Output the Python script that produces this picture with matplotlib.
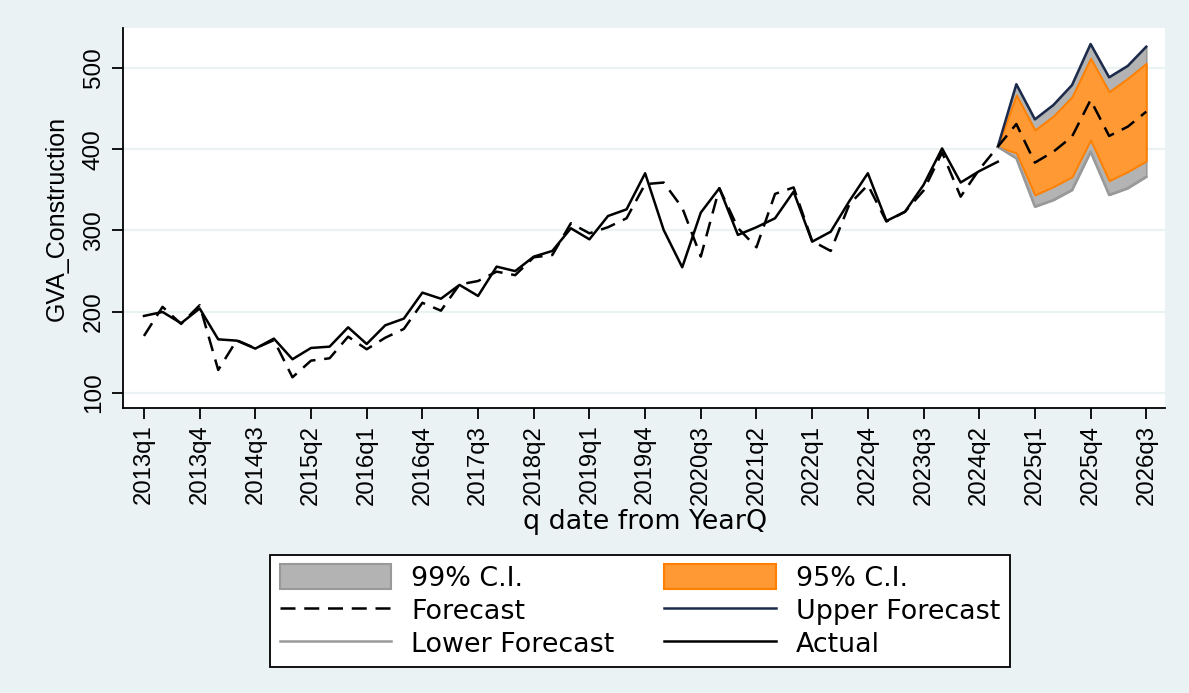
import matplotlib
matplotlib.use("Agg")
import matplotlib.pyplot as plt
from matplotlib.patches import Patch
from matplotlib.lines import Line2D
import numpy as np

# ---------------- data ----------------
start_year = 2013
n_quarters = 55  # 2013q1 .. 2026q3

actual = [194.8, 199.7, 185.8, 204.0, 166.0, 164.4, 154.6, 166.9, 141.5, 155.4,
          157.0, 180.8, 160.3, 183.3, 191.5, 223.5, 216.0, 233.0, 219.4, 255.5,
          250.0, 267.8, 274.8, 302.7, 289.1, 317.8, 326.0, 370.4, 300.6, 254.7,
          322.0, 352.0, 294.5, 304.0, 315.0, 347.8, 286.2, 298.5, 336.0, 370.4,
          311.7, 323.0, 356.0, 401.0, 359.0, 373.0, 384.6]

forecast = [170.2, 206.0, 185.0, 208.0, 128.3, 165.0, 155.0, 165.0, 119.3, 139.8,
            142.7, 169.3, 153.8, 168.0, 178.8, 211.0, 201.3, 233.5, 237.8, 249.3,
            245.0, 267.0, 269.8, 308.9, 296.5, 304.0, 315.0, 357.0, 359.0, 328.0,
            267.8, 352.0, 303.0, 279.3, 345.0, 353.0, 287.0, 274.8, 332.0, 356.0,
            311.0, 323.0, 349.0, 396.0, 341.6, 375.0, 403.0, 431.0, 383.5, 397.0,
            415.5, 460.6, 416.3, 427.7, 446.2]

fan_start = 46  # index of 2024q3
upper99 = [403.0, 480.0, 436.8, 454.5, 479.0, 529.5, 488.5, 502.5, 526.2]
upper95 = [403.0, 466.8, 423.7, 441.0, 464.6, 512.0, 470.8, 487.3, 505.7]
lower95 = [403.0, 395.5, 343.7, 354.0, 366.0, 411.4, 361.3, 372.4, 385.5]
lower99 = [403.0, 388.8, 329.3, 337.5, 349.8, 397.0, 343.7, 352.0, 366.2]

y_ticks = [100, 200, 300, 400, 500]
tick_step = 3

legend_labels = ["99% C.I.", "Forecast", "Lower Forecast",
                 "95% C.I.", "Upper Forecast", "Actual"]

# ---------------- styling ----------------
BG = "#EAF2F3"
NAVY = "#1C2B4C"
GRAYLINE = "#999999"
GRAYFILL = "#B3B3B3"
ORANGE = "#FF9933"
ORANGE_EDGE = "#FF8000"

q_labels = [f"{start_year + k // 4}q{k % 4 + 1}" for k in range(n_quarters)]
x_all = np.arange(n_quarters)
x_act = x_all[:len(actual)]
x_fan = x_all[fan_start:fan_start + len(upper99)]

fig = plt.figure(figsize=(11.89, 6.93), dpi=100, facecolor=BG)
ax = fig.add_axes([123 / 1189, 1 - 408 / 693, (1165 - 123) / 1189, (408 - 28) / 693])
ax.set_facecolor("white")

# grid
for v in y_ticks:
    ax.axhline(v, color=BG, lw=1.6, zorder=0)

# fans
ax.fill_between(x_fan, lower99, upper99, facecolor=GRAYFILL, edgecolor=GRAYLINE,
                lw=1.2, zorder=2)
ax.fill_between(x_fan, lower95, upper95, facecolor=ORANGE, edgecolor=ORANGE_EDGE,
                lw=1.4, zorder=3)
ax.plot(x_fan, upper99, color=NAVY, lw=1.8, zorder=4)
ax.plot(x_fan, lower99, color=GRAYLINE, lw=1.8, zorder=4)

# lines
ax.plot(x_all[:len(forecast)], forecast, color="black", lw=1.8,
        linestyle=(0, (6, 3.5)), zorder=5)
ax.plot(x_act, actual, color="black", lw=1.8, zorder=6)

ax.set_xlim(-1.13, 55.01)
ax.set_ylim(81.5, 549.2)

for s in ["top", "right"]:
    ax.spines[s].set_visible(False)
for s in ["left", "bottom"]:
    ax.spines[s].set_linewidth(1.3)
    ax.spines[s].set_color("black")

tick_font = dict(family="Liberation Sans", size=17.2)
ax.set_xticks(x_all[::tick_step])
ax.set_xticklabels(q_labels[::tick_step], rotation=90, fontdict=tick_font)
ax.set_yticks(y_ticks)
ax.set_yticklabels([str(v) for v in y_ticks], rotation=90, va="center",
                   fontdict=dict(family="Liberation Sans", size=17.5))
ax.tick_params(axis="both", length=8, width=1.3, direction="out", color="black")
ax.tick_params(axis="x", pad=4)
ax.tick_params(axis="y", pad=5)

fig.text(645 / 1189, 1 - 522 / 693, "q date from YearQ", ha="center", va="center",
         fontsize=19.4, family="DejaVu Sans")
fig.text(57 / 1189, 1 - 218 / 693, "GVA_Construction", ha="center", va="center",
         rotation=90, fontsize=18, family="Liberation Sans")

# legend
handles = [
    Patch(facecolor=GRAYFILL, edgecolor=GRAYLINE, lw=1.5),
    Line2D([], [], color="black", lw=1.8, linestyle=(0, (6, 3.5))),
    Line2D([], [], color=GRAYLINE, lw=1.8),
    Patch(facecolor=ORANGE, edgecolor=ORANGE_EDGE, lw=1.5),
    Line2D([], [], color=NAVY, lw=1.8),
    Line2D([], [], color="black", lw=1.8),
]
leg = fig.legend(handles, legend_labels, ncol=2, loc="center",
                 bbox_to_anchor=(640 / 1189, 1 - 611 / 693),
                 prop=dict(family="DejaVu Sans", size=19.4),
                 frameon=True, fancybox=False, edgecolor="black", framealpha=1,
                 handlelength=4.15, handleheight=1.05, handletextpad=0.74,
                 columnspacing=1.85, labelspacing=0.2, borderpad=0.35)
leg.get_frame().set_linewidth(1.3)
leg.get_frame().set_facecolor("white")

fig.savefig("out.png", dpi=100, facecolor=BG)
